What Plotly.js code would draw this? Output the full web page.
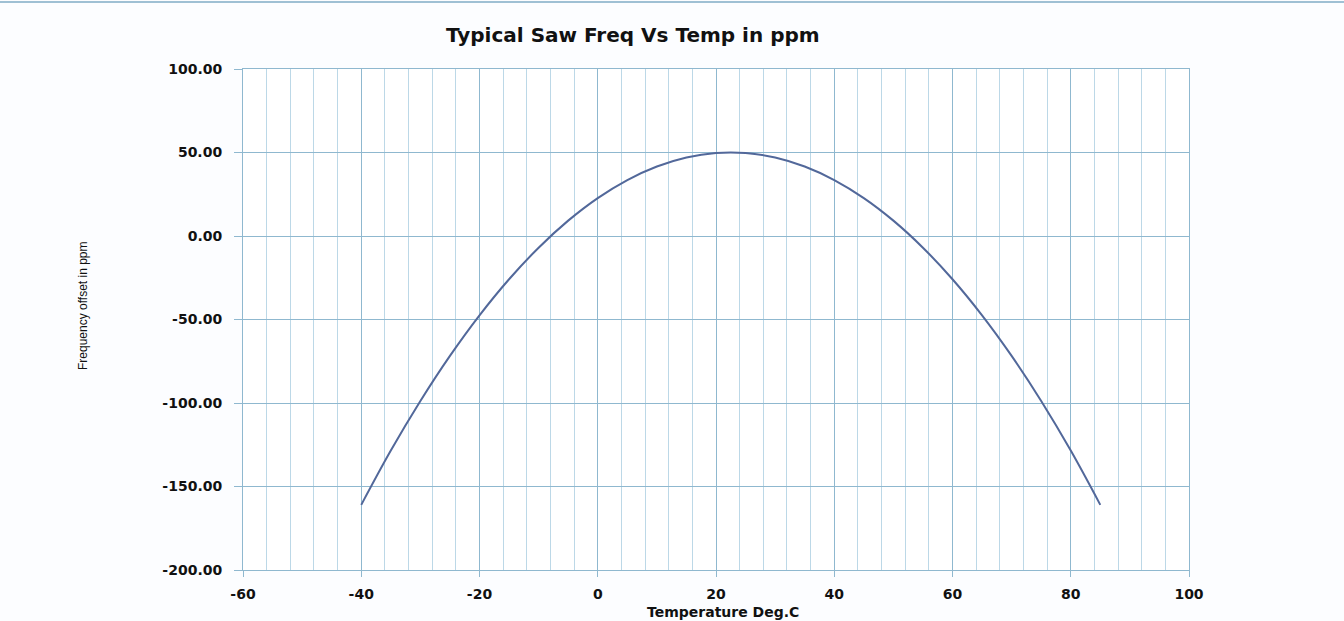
<!DOCTYPE html>
<html>
<head>
<meta charset="utf-8">
<script src="https://cdn.plot.ly/plotly-3.0.1.min.js"></script>
<style>
  html, body { margin: 0; padding: 0; background: #fcfdff; }
  #chart { width: 1344px; height: 621px; }
</style>
</head>
<body>
<div id="chart"></div>
<script>
// Temperature (deg C)
const temperature = [-40, -35, -30, -25, -20, -15, -10, -5, 0, 5, 10, 15, 20, 25, 30, 35, 40, 45, 50, 55, 60, 65, 70, 75, 80, 85];
// Frequency offset (ppm)
const freqOffset = [-161, -128.5, -98.8, -71.8, -47.5, -25.9, -7, 9.2, 22.7, 33.5, 41.6, 47, 49.7, 49.7, 47, 41.6, 33.5, 22.7, 9.2, -7, -25.9, -47.5, -71.8, -98.8, -128.5, -161];

const xTicks = [-60, -40, -20, 0, 20, 40, 60, 80, 100];
const yTicks = [-200, -150, -100, -50, 0, 50, 100];
const yTickText = yTicks.map(v => v.toFixed(2));

const tickFont = { family: 'DejaVu Sans, Verdana, sans-serif', size: 14, color: '#111111', weight: 'bold' };
const gridMajor = '#8fb8cf';
const gridMinor = '#bcd8e7';

const trace = {
  x: temperature,
  y: freqOffset,
  type: 'scatter',
  mode: 'lines',
  line: { color: '#52689a', width: 2, shape: 'spline' },
  hoverinfo: 'x+y'
};

const layout = {
  width: 1344,
  height: 621,
  paper_bgcolor: '#fcfdff',
  plot_bgcolor: '#ffffff',
  margin: { l: 243, r: 155, t: 69, b: 51 },
  showlegend: false,
  xaxis: {
    range: [-60, 100],
    tickvals: xTicks,
    ticktext: xTicks.map(String),
    tickfont: tickFont,
    ticks: 'outside',
    ticklen: 6,
    tickcolor: gridMajor,
    ticklabelstandoff: 5,
    showgrid: true,
    gridcolor: gridMajor,
    gridwidth: 1,
    minor: { dtick: 4, tick0: -60, showgrid: true, gridcolor: gridMinor, gridwidth: 1 },
    showline: true,
    linecolor: gridMajor,
    linewidth: 1,
    mirror: true,
    zeroline: false,
    fixedrange: true
  },
  yaxis: {
    range: [-200, 100],
    tickvals: yTicks,
    ticktext: yTickText,
    tickfont: tickFont,
    ticks: 'outside',
    ticklen: 8,
    tickcolor: gridMajor,
    ticklabelstandoff: 9,
    showgrid: true,
    gridcolor: gridMajor,
    gridwidth: 1,
    showline: true,
    linecolor: gridMajor,
    linewidth: 1,
    mirror: true,
    zeroline: false,
    fixedrange: true
  },
  annotations: [
    {
      text: '<b>Typical Saw Freq Vs Temp in ppm</b>',
      xref: 'paper', yref: 'paper',
      x: (633 - 243) / 946, y: 1 + (69 - 35) / 501,
      xanchor: 'center', yanchor: 'middle',
      showarrow: false,
      font: { family: 'DejaVu Sans, sans-serif', size: 20, color: '#111111' }
    },
    {
      text: '<b>Temperature Deg.C</b>',
      xref: 'paper', yref: 'paper',
      x: (723 - 243) / 946, y: -(612 - 570) / 501,
      xanchor: 'center', yanchor: 'middle',
      showarrow: false,
      font: { family: 'DejaVu Sans, sans-serif', size: 14, color: '#111111' }
    },
    {
      text: 'Frequency offset in ppm',
      xref: 'paper', yref: 'paper',
      x: (83 - 243) / 946, y: (570 - 306) / 501,
      xanchor: 'center', yanchor: 'middle',
      textangle: -90,
      showarrow: false,
      font: { family: 'Liberation Sans Narrow, sans-serif', size: 12, color: '#111111' }
    }
  ],
  shapes: [
    {
      type: 'line', xref: 'paper', yref: 'paper',
      x0: -243 / 946, x1: (1344 - 243) / 946,
      y0: 1 + 67 / 501, y1: 1 + 67 / 501,
      line: { color: '#9fc0d4', width: 2 }
    }
  ]
};

Plotly.newPlot('chart', [trace], layout, { displayModeBar: false, staticPlot: true });
</script>
</body>
</html>
